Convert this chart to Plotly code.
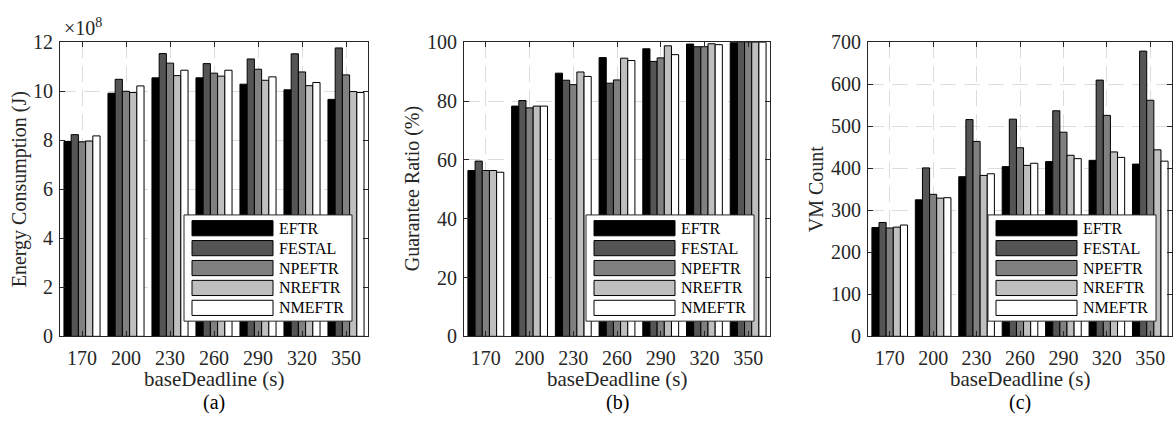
import plotly.graph_objects as go

# ---------------- data ----------------
deadlines = ["170", "200", "230", "260", "290", "320", "350"]
algorithms = ["EFTR", "FESTAL", "NPEFTR", "NREFTR", "NMEFTR"]

# (a) Energy consumption, in units of 1e8 J
energy_eftr   = [7.95, 9.92, 10.55, 10.55, 10.29, 10.06, 9.67]
energy_festal = [8.23, 10.49, 11.54, 11.13, 11.32, 11.53, 11.77]
energy_npeftr = [7.94, 10.00, 11.15, 10.74, 10.90, 10.79, 10.67]
energy_nreftr = [7.97, 9.95, 10.64, 10.62, 10.45, 10.23, 9.99]
energy_nmeftr = [8.18, 10.22, 10.86, 10.86, 10.59, 10.36, 9.95]

# (b) Guarantee ratio (%)
gr_eftr   = [56.4, 78.3, 89.5, 94.8, 97.8, 99.4, 100]
gr_festal = [59.6, 80.2, 87.1, 86.1, 93.5, 98.5, 100]
gr_npeftr = [56.4, 77.7, 85.6, 87.2, 94.7, 98.5, 100]
gr_nreftr = [56.4, 78.3, 89.9, 94.6, 98.8, 99.5, 100]
gr_nmeftr = [55.8, 78.3, 88.4, 93.8, 95.8, 99.2, 100]

# (c) VM count
vm_eftr   = [259, 325, 380, 404, 416, 419, 410]
vm_festal = [271, 401, 516, 517, 537, 610, 679]
vm_npeftr = [258, 338, 464, 449, 486, 526, 562]
vm_nreftr = [260, 329, 383, 407, 431, 439, 444]
vm_nmeftr = [265, 330, 387, 412, 423, 426, 417]

energy = [energy_eftr, energy_festal, energy_npeftr, energy_nreftr, energy_nmeftr]
ratio = [gr_eftr, gr_festal, gr_npeftr, gr_nreftr, gr_nmeftr]
vms = [vm_eftr, vm_festal, vm_npeftr, vm_nreftr, vm_nmeftr]

colors = ["#000000", "#555555", "#808080", "#bfbfbf", "#ffffff"]

# ---------------- layout geometry ----------------
W, H = 1173, 427
FONT = "Liberation Serif, Times New Roman, serif"
AXC = "#262626"

def fx(px):
    return px / W

def fy(py):
    return 1 - py / H

panels = [(60, 368), (464, 770), (868, 1172)]
TOP, BOT = 33, 343

fig = go.Figure()

datasets = [energy, ratio, vms]
yranges = [[0, 12], [0, 100], [0, 700]]
ydticks = [2, 20, 100]
ytitles = ["Energy Consumption (J)", "Guarantee Ratio (%)", "VM Count"]
ytitle_x = [19, 412, 816]
sub = ["(a)", "(b)", "(c)"]

for p, data in enumerate(datasets):
    xa = "x" if p == 0 else f"x{p+1}"
    ya = "y" if p == 0 else f"y{p+1}"
    for k, name in enumerate(algorithms):
        fig.add_trace(go.Bar(
            x=deadlines, y=data[k], name=name, xaxis=xa, yaxis=ya,
            marker=dict(color=colors[k], line=dict(color="#000000", width=1)),
            showlegend=False,
        ))

    l, r = panels[p]
    axis_common = dict(
        showline=True, linecolor=AXC, linewidth=1, mirror="ticks",
        ticks="inside", ticklen=5, tickcolor=AXC, tickwidth=1,
        showgrid=True, gridcolor="#dcdcdc", griddash="16px,8px", gridwidth=1,
        zeroline=False,
        tickfont=dict(family=FONT, size=20, color=AXC),
    )
    xkey = "xaxis" if p == 0 else f"xaxis{p+1}"
    ykey = "yaxis" if p == 0 else f"yaxis{p+1}"
    fig.update_layout({
        xkey: dict(domain=[fx(l), fx(r)], anchor=ya, type="category",
                   range=[-0.5, 6.5], ticklabelstandoff=4, **axis_common),
        ykey: dict(domain=[fy(BOT), fy(TOP)], anchor=xa, range=yranges[p],
                   dtick=ydticks[p], tick0=0, ticklabelstandoff=2, **axis_common),
    })

    # axis titles and subplot label
    fig.add_annotation(text=ytitles[p], x=fx(ytitle_x[p]), y=fy((TOP + BOT) / 2),
                       xref="paper", yref="paper", textangle=-90, showarrow=False,
                       xanchor="center", yanchor="middle",
                       font=dict(family=FONT, size=20, color=AXC))
    fig.add_annotation(text="baseDeadline (s)", x=fx((l + r) / 2), y=fy(388),
                       xref="paper", yref="paper", showarrow=False,
                       xanchor="center", yanchor="middle",
                       font=dict(family=FONT, size=21, color=AXC))
    fig.add_annotation(text=sub[p], x=fx((l + r) / 2), y=fy(413),
                       xref="paper", yref="paper", showarrow=False,
                       xanchor="center", yanchor="middle",
                       font=dict(family=FONT, size=20, color="#000000"))

    # custom legend box (MATLAB style, large swatches)
    bl, br = r - 184, r - 16
    bt, bb = 215, 327
    fig.add_shape(type="rect", xref="paper", yref="paper",
                  x0=fx(bl), x1=fx(br), y0=fy(bb), y1=fy(bt),
                  line=dict(color=AXC, width=1), fillcolor="#ffffff", layer="above")
    for k, name in enumerate(algorithms):
        st = 221 + 21 * k
        fig.add_shape(type="rect", xref="paper", yref="paper",
                      x0=fx(bl + 8), x1=fx(bl + 89), y0=fy(st + 16), y1=fy(st),
                      line=dict(color="#000000", width=1), fillcolor=colors[k],
                      layer="above")
        fig.add_annotation(text=name, x=fx(bl + 93), y=fy(st + 8),
                           xref="paper", yref="paper", showarrow=False,
                           xanchor="left", yanchor="middle",
                           font=dict(family=FONT, size=16, color="#000000"))

# exponent label for panel (a)
fig.add_annotation(text="\u00d710<sup>8</sup>", x=fx(62), y=fy(17),
                   xref="paper", yref="paper", showarrow=False,
                   xanchor="left", yanchor="middle",
                   font=dict(family=FONT, size=20, color=AXC))

fig.update_layout(
    width=W, height=H,
    margin=dict(l=0, r=0, t=0, b=0, pad=0),
    paper_bgcolor="#ffffff", plot_bgcolor="#ffffff",
    barmode="group", bargap=0.18, bargroupgap=0,
    font=dict(family=FONT, color=AXC),
)

fig.write_html("out.html",
               config={"displayModeBar": False},
               post_script="document.body.style.margin='0';document.body.style.overflow='hidden';")
